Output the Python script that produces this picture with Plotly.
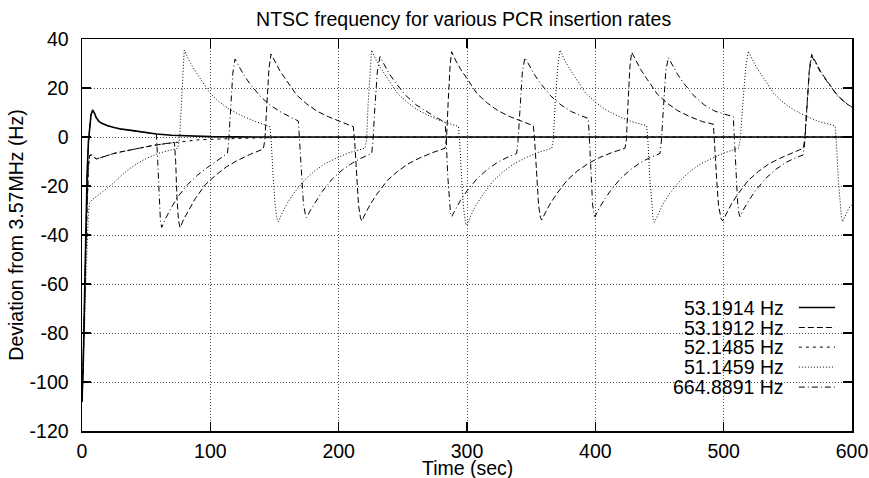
import plotly.graph_objects as go

# ---------------- data ----------------
labels = ["53.1914 Hz", "53.1912 Hz", "52.1485 Hz", "51.1459 Hz", "664.8891 Hz"]

t_s = [0, 1, 2, 3, 4, 5, 6, 7, 8.3, 9.5, 11, 13, 15, 20, 25, 30, 37, 45, 58, 70, 85, 100, 120, 150, 600]
v_s = [-108, -92, -65, -38, -15, -2, 5, 9, 11, 10, 8, 6.5, 5.7, 4.6, 3.9, 3.3, 2.8, 2.1, 1.2, 0.7, 0.3, 0.15, 0.05, 0, 0]

t_sd = [0, 1, 2, 3, 4, 5, 6, 8, 11, 15, 20, 25, 30, 37, 45, 55, 65, 72, 80, 90, 102, 120, 140, 170, 600]
v_sd = [-108, -93, -70, -45, -25, -12, -7.5, -7.3, -9, -8.3, -7.4, -6.7, -6.1, -5.3, -4.4, -3.5, -2.7, -2.2, -1.7, -1.2, -0.9, -0.5, -0.3, -0.1, 0]

t_dt = [0, 1, 2, 3, 4, 5, 6, 7.5, 12, 18, 24.4, 30, 37.4, 45, 50.4, 60, 68.6, 74.5,
        76, 77.5, 78.7, 79.7, 82.7, 86.7, 91.7, 99.7, 107.7, 115.7, 124.7, 134.7, 146.5,
        147.5, 149, 150.5, 152, 153, 156, 160, 165, 173, 181, 189, 198, 208, 220.5,
        221.8, 223, 224.5, 225.7, 228.7, 232.7, 237.7, 245.7, 253.7, 261.7, 270.7, 280.7, 293.3,
        294.3, 295.8, 297.3, 298.8, 299.8, 302.8, 306.8, 311.8, 319.8, 327.8, 335.8, 344.8, 354.8, 366,
        367.3, 368.7, 370.8, 372.5, 375.5, 379.5, 384.5, 392.5, 400.5, 408.5, 417.5, 427.5, 440,
        441, 442.5, 444, 445, 446, 449, 453, 458, 466, 474, 482, 491, 501, 511.4,
        513, 515, 517.3, 519.2, 522.2, 526.2, 531.2, 539.2, 547.2, 555.2, 564.2, 574.2, 586.8,
        587.8, 589.3, 590.8, 591.8, 592.7, 595, 597.2, 600]
v_dt = [-108, -95, -78, -58, -42, -31, -27, -25.7, -24, -21.5, -18.9, -16, -12.8, -10.2, -8.7, -6.6, -5.3, -4.6,
        -1, 14, 29, 35.5, 32, 28.2, 24.2, 17.9, 14, 11, 8.6, 6.4, 4.2,
        -2, -17, -28, -33.5, -34.6, -31, -27, -23, -17.8, -14, -11, -8.7, -6.4, -4.6,
        -1, 14, 29, 35.5, 32, 28.2, 24.2, 17.9, 14, 11, 8.6, 6.4, 4.3,
        -2, -17, -29, -35, -36, -32.3, -28, -24, -18.3, -14.3, -11.2, -8.7, -6.4, -4.6,
        -1, 14, 29, 35.5, 32, 28.2, 24.2, 17.9, 14, 11, 8.6, 6.4, 4.6,
        -2, -17, -28, -33.5, -34.8, -31.2, -27.1, -23, -17.8, -14, -11, -8.7, -6.4, -4.6,
        -1, 14, 29, 35.1, 31.7, 27.9, 23.9, 17.7, 13.8, 10.9, 8.5, 6.3, 4.6,
        -2, -17, -28, -33, -34.6, -31.8, -29.4, -27.5]

t_ld = [0, 1, 2, 3, 4, 5, 6, 8, 11, 15, 20, 25, 30, 37, 45, 55, 65, 72,
        73, 74, 75.2, 76.4, 79.4, 83.4, 88.4, 96.4, 104.4, 112.4, 121.4, 131.4, 141.3,
        142.5, 144, 145.7, 147.3, 150.3, 154.3, 159.3, 167.3, 175.3, 183.3, 192.3, 202.3, 211.4,
        212.5, 214, 215.5, 217, 218, 221, 225, 230, 238, 246, 254, 263, 273, 282.9,
        284, 285.3, 286.8, 288, 291, 295, 300, 308, 316, 324, 333, 343, 351.7,
        352.8, 354.3, 355.8, 357.2, 358.2, 361.2, 365.2, 370.2, 378.2, 386.2, 394.2, 403.2, 413.2, 423.1,
        424.2, 425.5, 427, 428.3, 431.3, 435.3, 440.3, 448.3, 456.3, 464.3, 473.3, 483.3, 492,
        493, 494.5, 496, 498, 499.2, 502.2, 506.2, 511.2, 519.2, 527.2, 535.2, 544.2, 554.2, 562,
        563.2, 564.8, 566.8, 568.6, 571.6, 575.6, 580.6, 588.6, 596.6, 600]
v_ld = [-108, -93, -70, -45, -25, -12, -7.5, -7.3, -9, -8.3, -7.4, -6.7, -6.1, -5.3, -4.4, -3.5, -2.7, -2.2,
        -10, -25, -34, -37, -33.4, -29.5, -25, -19.3, -15.5, -12.2, -9.5, -7, -4.9,
        -1, 14, 28, 33.9, 30.6, 26.9, 23.1, 17.1, 13.4, 10.5, 8.2, 6.1, 4.2,
        -2, -17, -28, -33, -34.3, -31, -27.2, -23.2, -17.7, -14, -11, -8.6, -6.4, -4.6,
        -1, 14, 29, 34.8, 31.4, 27.7, 23.8, 17.6, 13.8, 10.8, 8.4, 6.3, 4.6,
        -2, -17, -28, -32.8, -33.9, -30.7, -26.9, -23, -17.5, -13.8, -10.9, -8.4, -6.3, -4.6,
        -1, 14, 29, 34.6, 31.3, 27.6, 23.6, 17.5, 13.7, 10.7, 8.4, 6.3, 5.2,
        -2, -17, -28, -33.3, -34.3, -31, -27.2, -23.2, -17.7, -14, -11, -8.6, -6.4, -4.6,
        -1, 14, 28, 33.7, 30.5, 26.7, 22.9, 17, 13.3, 12.2]

t_dd = [0, 1, 2, 3, 4, 5, 6, 7, 8.3, 9.5, 11, 13, 15, 20, 25, 30, 37, 45, 58,
        59, 60, 61.1, 62.1, 65.1, 69.1, 74.1, 82.1, 90.1, 98.1, 106.1, 113.3,
        114.3, 115.7, 117.5, 119.2, 122.2, 126.2, 131.2, 139.2, 147.2, 155.2, 162.2, 168.6,
        169.6, 171, 172.5, 174, 175.1, 178.1, 182.1, 187.1, 195.1, 203.1, 211.1, 218.1, 225.7,
        226.7, 228.2, 230.2, 232.2, 235.2, 239.2, 244.2, 252.2, 260.2, 268.2, 275.2, 282.9,
        283.9, 285, 286.2, 287.2, 288, 291, 295, 300, 308, 316, 324, 331, 338.7,
        339.7, 341.2, 343.2, 345.2, 348.2, 352.2, 357.2, 365.2, 373.2, 381.2, 388.2, 394.5,
        395.5, 396.7, 397.8, 398.8, 399.7, 402.7, 406.7, 411.7, 419.7, 427.7, 435.7, 442.7, 450.4,
        451.4, 452.9, 454.9, 456.9, 459.9, 463.9, 468.9, 476.9, 484.9, 492.9, 500.9, 507.5,
        508.5, 509.7, 510.9, 511.9, 512.7, 515.7, 519.7, 524.7, 532.7, 540.7, 548.7, 555.7, 562,
        563.2, 564.8, 566.8, 568.6, 571.6, 575.6, 580.6, 588.6, 596.6, 600]
v_dd = [-108, -92, -65, -38, -15, -2, 5, 9, 11, 10, 8, 6.5, 5.7, 4.6, 3.9, 3.3, 2.8, 2.1, 1.2,
        -10, -24, -34, -36.9, -33.3, -29.3, -24.8, -19.5, -15.5, -12.3, -9.4, -6.7,
        -2, 12, 26, 31.8, 28.8, 25.2, 21.5, 16.4, 12.8, 10.1, 8.2, 6.5,
        -2, -16, -27, -31.5, -32.9, -29.8, -26.2, -22.3, -17.1, -13.3, -10.5, -8.5, -6.7,
        -2, 12, 27, 32.8, 29.7, 26, 22.2, 17, 13.2, 10.4, 8.2, 6,
        -2, -16, -27, -31.3, -32.5, -29.4, -25.8, -22, -16.9, -13.2, -10.3, -8.4, -6.7,
        -2, 12, 27, 32.4, 29.3, 25.7, 21.9, 16.8, 13.1, 10.4, 8.8, 7.6,
        -2, -16, -27, -31.3, -32.5, -29.4, -25.8, -22, -16.9, -13.2, -10.3, -8.4, -6.7,
        -2, 12, 27, 32.4, 29.3, 25.7, 21.9, 16.8, 13.1, 10.6, 9.3, 8.3,
        -2, -16, -27, -31.3, -32.5, -29.4, -25.8, -22, -16.9, -13.2, -10.3, -8.6, -7.3,
        -2, 12, 27, 33, 30, 26.3, 22.6, 16.8, 13.2, 12.2]

x_ticks = [0, 100, 200, 300, 400, 500, 600]
y_ticks = [-120, -100, -80, -60, -40, -20, 0, 20, 40]

# ---------------- styling ----------------
FONT = "Liberation Sans, Arial, sans-serif"
FS = 19.5
series = [
    (t_s, v_s, "solid", 1.6),
    (t_ld, v_ld, "6px,3px", 1),
    (t_sd, v_sd, "3px,4px", 1),
    (t_dt, v_dt, "1px,2px", 1),
    (t_dd, v_dd, "6px,3px,1px,3px", 1),
]

fig = go.Figure()
for (tx, vy, dash, w), name in zip(series, labels):
    fig.add_trace(go.Scatter(x=tx, y=vy, mode="lines", name=name, showlegend=False,
                             line=dict(color="black", width=w, dash=dash)))

# gnuplot-style key: right-justified text, sample line to its right
key_rows = [0.315, 0.264, 0.214, 0.163, 0.112]
for (tx, vy, dash, w), name, ky in zip(series, labels, key_rows):
    fig.add_annotation(x=0.914, y=ky, xref="paper", yref="paper", text=name, showarrow=False,
                       xanchor="right", yanchor="middle", font=dict(family=FONT, size=FS, color="black"))
    fig.add_shape(type="line", xref="paper", yref="paper", x0=0.931, x1=0.978, y0=ky, y1=ky,
                  line=dict(color="black", width=w, dash=dash))

# x-axis title placed just under the tick labels
fig.add_annotation(x=0.5, y=-0.094, xref="paper", yref="paper", text="Time (sec)", showarrow=False,
                   xanchor="center", yanchor="middle", font=dict(family=FONT, size=FS, color="black"))

axis_common = dict(showline=True, linecolor="black", linewidth=1.5, mirror="ticks",
                   ticks="inside", ticklen=9, tickwidth=1.5, tickcolor="black",
                   showgrid=True, gridcolor="#555", gridwidth=1, griddash="1px,2px",
                   zeroline=False, tickfont=dict(family=FONT, size=FS, color="black"))

fig.update_xaxes(range=[0, 600], tickmode="array", tickvals=x_ticks, ticktext=[str(v) for v in x_ticks],
                 ticklabelstandoff=2, ticklabeloverflow="allow", **axis_common)
fig.update_yaxes(range=[-120, 40], tickmode="array", tickvals=y_ticks, ticktext=[str(v) for v in y_ticks],
                 title=dict(text="Deviation from 3.57MHz (Hz)", font=dict(family=FONT, size=FS, color="black"), standoff=0),
                 ticklabelstandoff=8, **axis_common)

fig.update_layout(
    width=869, height=478,
    margin=dict(l=82, r=17, t=39, b=47, autoexpand=False),
    paper_bgcolor="white", plot_bgcolor="white",
    title=dict(text="NTSC frequency for various PCR insertion rates", x=0.5335, xanchor="center",
               y=0.96, yanchor="middle", yref="container",
               font=dict(family=FONT, size=FS, color="black")),
    font=dict(family=FONT, size=FS, color="black"),
    hovermode=False,
)

# remove the browser's default 8px page margin so the figure fills the window exactly
fig.write_html("out.html", config={"displayModeBar": False, "staticPlot": True},
               post_script="document.body.style.margin='0';document.body.style.overflow='hidden';")
